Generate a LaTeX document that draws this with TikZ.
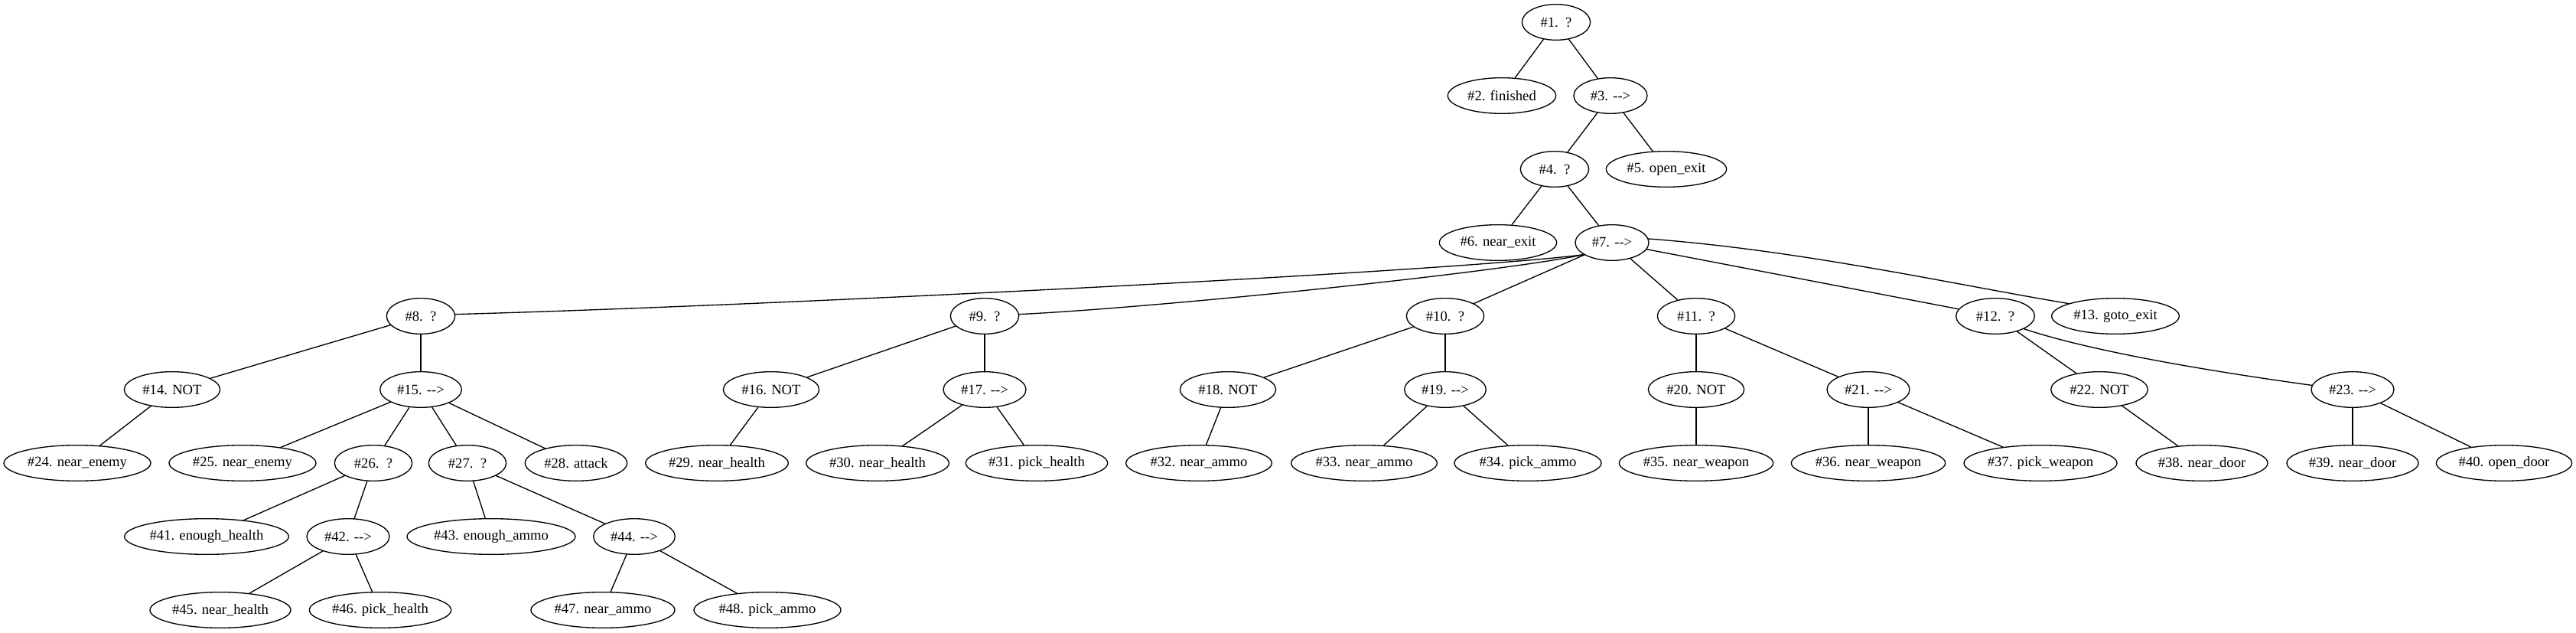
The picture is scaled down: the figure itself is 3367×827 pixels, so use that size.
\documentclass[tikz,border=0pt]{standalone}
\usepackage{fontspec}
\setmainfont{Liberation Serif}
\usetikzlibrary{shapes.geometric}

\newcommand\seqarr{-\kern0pt-\kern0pt>}
\tikzset{
  btnode/.style={draw,ellipse,line width=1pt,inner sep=0pt,minimum height=35pt,
    font=\fontsize{14pt}{16pt}\selectfont},
  link/.style={line width=1pt}
}

\begin{document}
\begin{tikzpicture}[x=0.75pt,y=0.75pt,line cap=round,line join=round]
\useasboundingbox (0,0) rectangle (3367,-827);

\def\yA{-29}
\def\yB{-125}
\def\yC{-221}
\def\yD{-317}
\def\yE{-413}
\def\yF{-509}
\def\yG{-605}
\def\yH{-701}
\def\yI{-797}

% upper part
\node[btnode,minimum width=67pt] (n1) at (2034,\yA) {\#1.\ \ ?};
\node[btnode,minimum width=106pt] (n2) at (1963,\yB) {\#2. finished};
\node[btnode,minimum width=72pt] (n3) at (2105,\yB) {\#3. \seqarr};
\node[btnode,minimum width=67pt] (n4) at (2032,\yC) {\#4.\ \ ?};
\node[btnode,minimum width=118pt] (n5) at (2178,\yC) {\#5. open\_exit};
\node[btnode,minimum width=115pt] (n6) at (1958,\yD) {\#6. near\_exit};
\node[btnode,minimum width=72pt] (n7) at (2107,\yD) {\#7. \seqarr};

% children of #7
\node[btnode,minimum width=67pt] (n8) at (550,\yE) {\#8.\ \ ?};
\node[btnode,minimum width=67pt] (n9) at (1287,\yE) {\#9.\ \ ?};
\node[btnode,minimum width=76pt] (n10) at (1889,\yE) {\#10.\ \ ?};
\node[btnode,minimum width=76pt] (n11) at (2217,\yE) {\#11.\ \ ?};
\node[btnode,minimum width=77pt] (n12) at (2608,\yE) {\#12.\ \ ?};
\node[btnode,minimum width=125pt] (n13) at (2765,\yE) {\#13. goto\_exit};

\node[btnode,minimum width=94pt] (n14) at (225,\yF) {\#14. NOT};
\node[btnode,minimum width=80pt] (n15) at (550,\yF) {\#15. \seqarr};
\node[btnode,minimum width=94pt] (n16) at (1008,\yF) {\#16. NOT};
\node[btnode,minimum width=81pt] (n17) at (1287,\yF) {\#17. \seqarr};
\node[btnode,minimum width=94pt] (n18) at (1605,\yF) {\#18. NOT};
\node[btnode,minimum width=80pt] (n19) at (1889,\yF) {\#19. \seqarr};
\node[btnode,minimum width=94pt] (n20) at (2217,\yF) {\#20. NOT};
\node[btnode,minimum width=81pt] (n21) at (2442,\yF) {\#21. \seqarr};
\node[btnode,minimum width=95pt] (n22) at (2744,\yF) {\#22. NOT};
\node[btnode,minimum width=81pt] (n23) at (3075,\yF) {\#23. \seqarr};

\node[btnode,minimum width=144pt] (n24) at (101,\yG) {\#24. near\_enemy};
\node[btnode,minimum width=144pt] (n25) at (317,\yG) {\#25. near\_enemy};
\node[btnode,minimum width=76pt] (n26) at (488,\yG) {\#26.\ \ ?};
\node[btnode,minimum width=76pt] (n27) at (611,\yG) {\#27.\ \ ?};
\node[btnode,minimum width=100pt] (n28) at (753,\yG) {\#28. attack};
\node[btnode,minimum width=140pt] (n29) at (937,\yG) {\#29. near\_health};
\node[btnode,minimum width=140pt] (n30) at (1147,\yG) {\#30. near\_health};
\node[btnode,minimum width=139pt] (n31) at (1355,\yG) {\#31. pick\_health};
\node[btnode,minimum width=143pt] (n32) at (1567,\yG) {\#32. near\_ammo};
\node[btnode,minimum width=143pt] (n33) at (1783,\yG) {\#33. near\_ammo};
\node[btnode,minimum width=144pt] (n34) at (1997,\yG) {\#34. pick\_ammo};
\node[btnode,minimum width=151pt] (n35) at (2217,\yG) {\#35. near\_weapon};
\node[btnode,minimum width=151pt] (n36) at (2442,\yG) {\#36. near\_weapon};
\node[btnode,minimum width=150pt] (n37) at (2667,\yG) {\#37. pick\_weapon};
\node[btnode,minimum width=129pt] (n38) at (2878,\yG) {\#38. near\_door};
\node[btnode,minimum width=129pt] (n39) at (3075,\yG) {\#39. near\_door};
\node[btnode,minimum width=133pt] (n40) at (3273,\yG) {\#40. open\_door};

\node[btnode,minimum width=161pt] (n41) at (270,\yH) {\#41. enough\_health};
\node[btnode,minimum width=81pt] (n42) at (455,\yH) {\#42. \seqarr};
\node[btnode,minimum width=165pt] (n43) at (642,\yH) {\#43. enough\_ammo};
\node[btnode,minimum width=80pt] (n44) at (829,\yH) {\#44. \seqarr};

\node[btnode,minimum width=138pt] (n45) at (288,\yI) {\#45. near\_health};
\node[btnode,minimum width=139pt] (n46) at (497,\yI) {\#46. pick\_health};
\node[btnode,minimum width=141pt] (n47) at (788,\yI) {\#47. near\_ammo};
\node[btnode,minimum width=144pt] (n48) at (1003,\yI) {\#48. pick\_ammo};

% straight links
\draw[link] (n1) -- (n2);
\draw[link] (n1) -- (n3);
\draw[link] (n3) -- (n4);
\draw[link] (n3) -- (n5);
\draw[link] (n4) -- (n6);
\draw[link] (n4) -- (n7);
\draw[link] (n7) -- (n10);
\draw[link] (n7) -- (n11);
\draw[link] (n7) -- (n12);

\draw[link] (n8) -- (n14);
\draw[link] (n8) -- (n15);
\draw[link] (n9) -- (n16);
\draw[link] (n9) -- (n17);
\draw[link] (n10) -- (n18);
\draw[link] (n10) -- (n19);
\draw[link] (n11) -- (n20);
\draw[link] (n11) -- (n21);
\draw[link] (n12) -- (n22);

\draw[link] (n14) -- (n24);
\draw[link] (n15) -- (n25);
\draw[link] (n15) -- (n26);
\draw[link] (n15) -- (n27);
\draw[link] (n15) -- (n28);
\draw[link] (n16) -- (n29);
\draw[link] (n17) -- (n30);
\draw[link] (n17) -- (n31);
\draw[link] (n18) -- (n32);
\draw[link] (n19) -- (n33);
\draw[link] (n19) -- (n34);
\draw[link] (n20) -- (n35);
\draw[link] (n21) -- (n36);
\draw[link] (n21) -- (n37);
\draw[link] (n22) -- (n38);
\draw[link] (n23) -- (n39);
\draw[link] (n23) -- (n40);

\draw[link] (n26) -- (n41);
\draw[link] (n26) -- (n42);
\draw[link] (n27) -- (n43);
\draw[link] (n27) -- (n44);
\draw[link] (n42) -- (n45);
\draw[link] (n42) -- (n46);
\draw[link] (n44) -- (n47);
\draw[link] (n44) -- (n48);

% curved links
\draw[link] (n7.203) .. controls +(-170,-22) and +(405,11) .. (n8.3);
\draw[link] (n7.203) .. controls +(-120,-25) and +(169,8) .. (n9.3);
\draw[link] (n7.6) .. controls +(200,-15) and +(-150,25) .. (n13.165);
\draw[link] (n12.-24) .. controls +(90,-30) and +(-130,18) .. (n23.174);
\end{tikzpicture}
\end{document}
